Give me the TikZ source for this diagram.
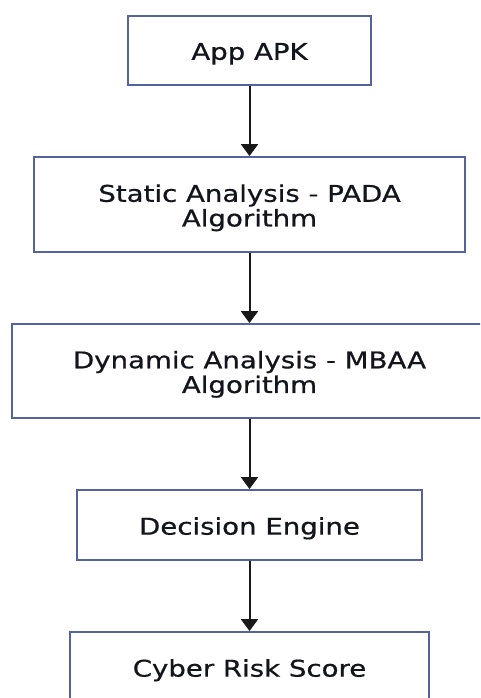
\documentclass[tikz,border=0pt]{standalone}
\usepackage{fontspec}
\setmainfont[FakeBold=0.6]{DejaVu Sans}
\usetikzlibrary{arrows.meta}
\definecolor{boxline}{RGB}{84,98,160}
\definecolor{txt}{RGB}{20,20,30}
\definecolor{arr}{RGB}{25,25,25}
\newcommand{\wtext}[1]{\raisebox{-4.5pt}[\height][\depth]{\scalebox{1.2}[1]{\begin{tabular}{@{}c@{}}#1\end{tabular}}}}
\tikzset{
  flowbox/.style={draw=boxline, line width=1.8pt, fill=white, text=txt, inner sep=0pt,
    font=\fontsize{23}{24}\selectfont},
  flowarrow/.style={draw=arr, line width=2pt, -{Triangle[width=17pt,length=12pt]}}
}
\begin{document}
\begin{tikzpicture}[x=1pt,y=-1pt]
\useasboundingbox (0,0) rectangle (480,698);
\clip (0,0) rectangle (480,698);
\fill[white] (0,0) rectangle (480,698);
\node[flowbox, minimum width=243pt, minimum height=69pt] (apk) at (249.5,50.5) {\wtext{App APK}};
\node[flowbox, minimum width=431pt, minimum height=95pt] (static) at (249.5,204.5) {\wtext{Static Analysis - PADA\\Algorithm}};
\node[flowbox, minimum width=475pt, minimum height=94pt] (dynamic) at (249.5,371) {\wtext{Dynamic Analysis - MBAA\\Algorithm}};
\node[flowbox, minimum width=345pt, minimum height=70pt] (decision) at (249.5,525) {\wtext{Decision Engine}};
\node[flowbox, minimum width=359pt, minimum height=70pt] (score) at (249.5,667) {\wtext{Cyber Risk Score}};
\draw[flowarrow] (apk) -- (static);
\draw[flowarrow] (static) -- (dynamic);
\draw[flowarrow] (dynamic) -- (decision);
\draw[flowarrow] (decision) -- (score);
\end{tikzpicture}
\end{document}
